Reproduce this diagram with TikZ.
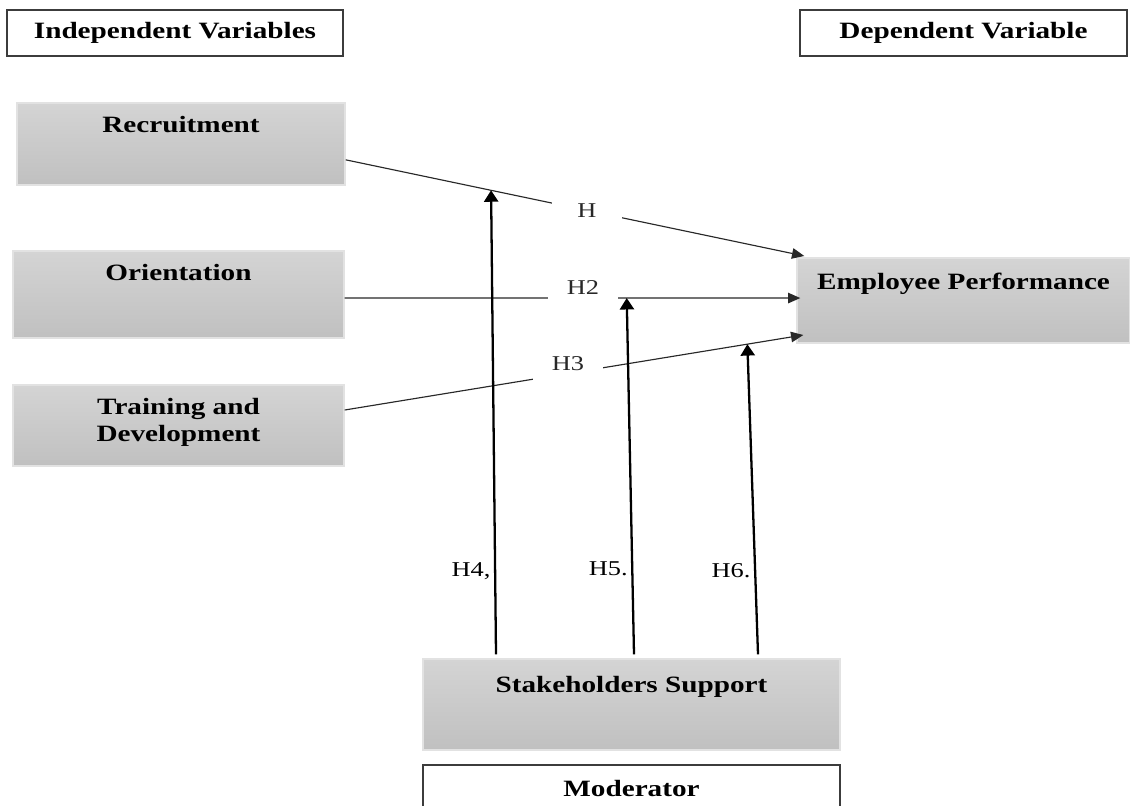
\documentclass[tikz,border=0pt]{standalone}
\usepackage{fontspec}
\setmainfont{Liberation Serif}[FakeStretch=1.25]
\usepackage{tikz}
\usetikzlibrary{arrows.meta,positioning,calc}
\definecolor{greyTop}{RGB}{212,212,212}
\definecolor{greyBottom}{RGB}{192,192,192}
\definecolor{greyEdge}{RGB}{226,226,226}
\definecolor{frameDark}{RGB}{60,60,60}
\definecolor{lineGrey}{RGB}{40,40,40}

\begin{document}
\begin{tikzpicture}[
  heading/.style={rectangle,draw=frameDark,line width=0.9pt,fill=white,minimum height=0.92cm,
                  font=\bfseries\fontsize{13.3}{15.4}\selectfont},
  factor/.style={rectangle,draw=greyEdge,line width=0.8pt,top color=greyTop,bottom color=greyBottom},
  factortext/.style={inner sep=0pt,align=center,font=\bfseries\fontsize{13.3}{15.4}\selectfont},
  link/.style={-{Triangle[length=7pt,width=6pt]},lineGrey,line width=0.65pt},
  moder/.style={-{Triangle[length=6.5pt,width=8pt]},black,line width=1.3pt},
  hyp/.style={fill=white,minimum width=1.4cm,minimum height=0.75cm,font=\fontsize{12}{14}\selectfont},
  hyplbl/.style={inner sep=2pt,font=\fontsize{12}{14}\selectfont}]

  \useasboundingbox (0,0) rectangle (22.6,-16.1);

  % headings
  \node[heading,minimum width=6.72cm] (IV) at (3.50,-0.66) {Independent Variables};
  \node[heading,minimum width=6.54cm] (DV) at (19.27,-0.66) {Dependent Variable};

  % independent variables
  \node[factor,minimum width=6.56cm,minimum height=1.64cm] (REC) at (3.62,-2.88) {};
  \node[factortext,below=8pt of REC.north] (RECt) {Recruitment};
  \node[factor,minimum width=6.62cm,minimum height=1.74cm] (ORI) at (3.57,-5.89) {};
  \node[factortext,below=8pt of ORI.north] (ORIt) {Orientation};
  \node[factor,minimum width=6.62cm,minimum height=1.62cm] (TRD) at (3.57,-8.51) {};
  \node[factortext,below=8pt of TRD.north] (TRDt) {Training and\\Development};

  % dependent variable
  \node[factor,minimum width=6.66cm,minimum height=1.70cm] (EMP) at (19.27,-6.01) {};
  \node[factortext,below=9pt of EMP.north] (EMPt) {Employee Performance};

  % moderator
  \node[factor,minimum width=8.34cm,minimum height=1.82cm] (STK) at (12.63,-14.09) {};
  \node[factortext,below=10pt of STK.north] (STKt) {Stakeholders Support};
  \node[heading,minimum width=8.34cm] (MOD) at (12.63,-15.76) {Moderator};

  % direct hypotheses
  \draw[link] ([yshift=-9pt]REC.east) -- coordinate[pos=0.317] (h4)
    node[hyp,pos=0.526]{H} ([xshift=0.16cm,yshift=0.89cm]EMP.west);
  \draw[link] ([yshift=-2pt]ORI.east) -- coordinate[pos=0.619] (h5)
    node[hyp,pos=0.523,yshift=0.22cm]{H2} ([xshift=0.08cm,yshift=1.4pt]EMP.west);
  \draw[link] ([yshift=0.31cm]TRD.east) -- coordinate[pos=0.878] (h6)
    node[hyp,pos=0.487,yshift=0.2cm]{H3} ([xshift=0.14cm,yshift=-0.69cm]EMP.west);

  % moderating hypotheses
  \draw[moder] ([xshift=-2.71cm,yshift=0.08cm]STK.north) -- node[hyplbl,pos=0.18,left]{H4,} (h4);
  \draw[moder] ([xshift=0.05cm,yshift=0.08cm]STK.north) -- node[hyplbl,pos=0.24,left]{H5.} (h5);
  \draw[moder] ([xshift=2.53cm,yshift=0.08cm]STK.north) -- node[hyplbl,pos=0.27,left]{H6.} (h6);
\end{tikzpicture}
\end{document}
